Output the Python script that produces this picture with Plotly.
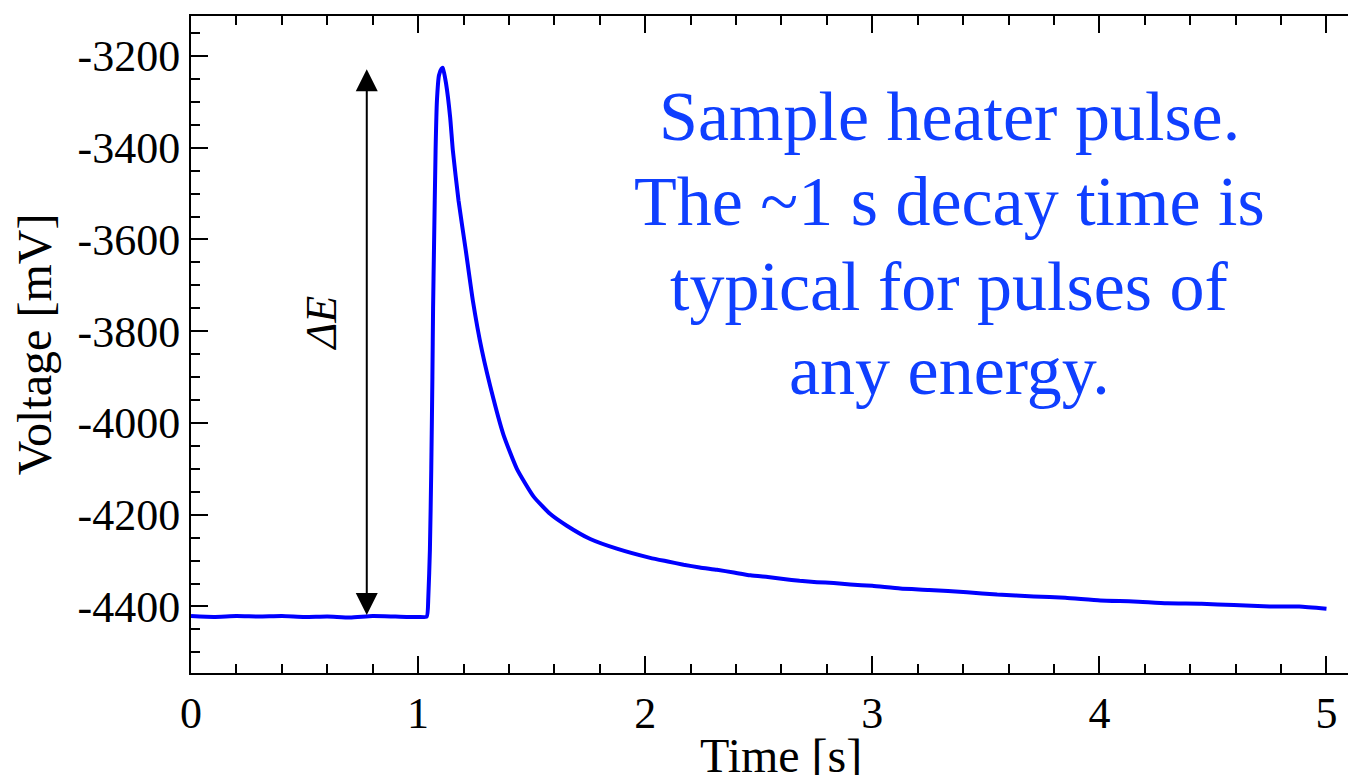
import plotly.graph_objects as go

# ---- data ----
time_s = [0.0, 0.1, 0.2, 0.3, 0.4, 0.5, 0.6, 0.7, 0.8, 0.9, 1.0, 1.038,
          1.045, 1.052, 1.058, 1.063, 1.066, 1.070, 1.077, 1.083, 1.092, 1.103, 1.109,
          1.123, 1.141, 1.153, 1.178, 1.210, 1.241, 1.281, 1.332, 1.376, 1.435,
          1.508, 1.581, 1.655, 1.758, 1.875, 2.022, 2.10, 2.169, 2.24, 2.316, 2.39,
          2.463, 2.54, 2.609, 2.68, 2.756, 2.83, 2.903, 3.0, 3.123, 3.25, 3.417,
          3.55, 3.711, 3.85, 4.004, 4.15, 4.298, 4.45, 4.592, 4.75, 4.88, 5.0]
voltage_mV = [-4421, -4423, -4421, -4422, -4421, -4423, -4422, -4424, -4421, -4422, -4423, -4422,
              -4380, -4277, -4100, -3900, -3750, -3620, -3406, -3297, -3242, -3228, -3226,
              -3260, -3333, -3406, -3515, -3624, -3733, -3842, -3948, -4026, -4100,
              -4160, -4198, -4224, -4253, -4274, -4294, -4302, -4309, -4315, -4320, -4326,
              -4332, -4336, -4340, -4344, -4347, -4349, -4352, -4355, -4361, -4364, -4369,
              -4374, -4378, -4381, -4387, -4389, -4393, -4394, -4397, -4400, -4400, -4405]

x_ticks = [0, 1, 2, 3, 4, 5]
y_ticks = [-4400, -4200, -4000, -3800, -3600, -3400, -3200]

arrow_t = 0.774
arrow_bottom = -4422
arrow_top = -3229

note_lines = ["Sample heater pulse.", "The ~1 s decay time is",
              "typical for pulses of", "any energy."]
note_y = [0.8475, 0.718, 0.589, 0.461]

SERIF = "Liberation Serif, Times New Roman, serif"

fig = go.Figure()
fig.add_trace(go.Scatter(x=time_s, y=voltage_mV, mode="lines",
                         line=dict(color="#0000ff", width=4, shape="spline", smoothing=0.5),
                         showlegend=False, hoverinfo="skip"))

axis_common = dict(showgrid=False, zeroline=False, showline=True, linecolor="black",
                   linewidth=2, ticks="inside", ticklen=17, tickwidth=2, tickcolor="black",
                   automargin=False,
                   tickfont=dict(family=SERIF, size=44, color="black"))

fig.update_xaxes(range=[0, 5.13], tickvals=x_ticks, ticktext=[str(v) for v in x_ticks],
                 mirror="ticks",
                 minor=dict(ticks="inside", ticklen=9, tickwidth=2, tickcolor="black", dtick=0.2, tick0=0),
                 **axis_common)
fig.update_yaxes(range=[-4545, -3113], tickvals=y_ticks, ticktext=[str(v) for v in y_ticks],
                 mirror=False,
                 minor=dict(ticks="inside", ticklen=9, tickwidth=2, tickcolor="black", dtick=50, tick0=-4400),
                 title=dict(text="Voltage [mV]", font=dict(family=SERIF, size=48, color="black"), standoff=16),
                 **axis_common)

# x-axis title (placed as an annotation so it sits where the reference has it)
fig.add_annotation(x=0.5064, y=-0.082, xref="paper", yref="paper", text="Time [s]",
                   showarrow=False, xanchor="center", yanchor="top",
                   font=dict(family=SERIF, size=48, color="black"))

# double-headed ΔE arrow
fig.add_annotation(x=arrow_t, y=arrow_top, ax=arrow_t, ay=arrow_bottom,
                   xref="x", yref="y", axref="x", ayref="y", text="", showarrow=True,
                   arrowhead=2, startarrowhead=2, arrowside="end+start", arrowsize=2.2,
                   startarrowsize=2.2, arrowwidth=2, arrowcolor="black")
fig.add_annotation(x=0.575, y=-3782, xref="x", yref="y", text="<i>ΔE</i>", showarrow=False,
                   textangle=-90, font=dict(family=SERIF, size=44, color="black"))

for line, yy in zip(note_lines, note_y):
    fig.add_annotation(x=0.6515, y=yy, xref="paper", yref="paper", text=line, showarrow=False,
                       xanchor="center", yanchor="middle",
                       font=dict(family=SERIF, size=70, color="#0f3fff"))

# page body has an 8px margin: shrink the figure so it fits the 1356x775 window
fig.update_layout(width=1348, height=767, margin=dict(l=183, r=0, t=8, b=102),
                  plot_bgcolor="white", paper_bgcolor="white")

fig.write_html("out.html")
